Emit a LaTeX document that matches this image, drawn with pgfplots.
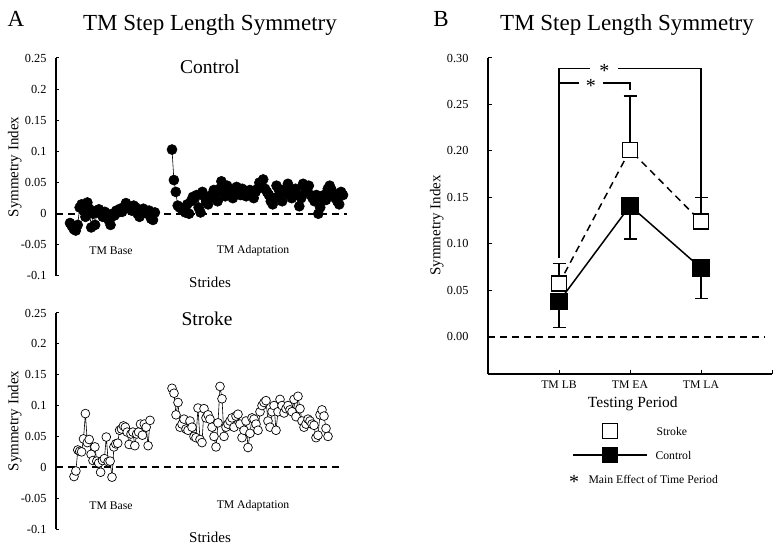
\documentclass[border=0pt]{standalone}
\usepackage{pgfplots}
\usepackage{pgfplotstable}
\pgfplotsset{compat=1.18}
\usepackage{fontspec}
\setmainfont{Liberation Serif}

\newcommand\fTitle{\fontsize{23}{26}\selectfont}
\newcommand\fPanel{\fontsize{19.5}{22}\selectfont}
\newcommand\fLabel{\fontsize{15}{18}\selectfont}
\newcommand\fTick{\fontsize{12.3}{14}\selectfont}
\newcommand\fSmall{\fontsize{11.7}{14}\selectfont}
\newcommand\fStar{\fontsize{20}{22}\selectfont}

% control, treadmill baseline
\pgfplotstableread{
v
-0.015
-0.020
-0.025
-0.027
-0.018
0.010
0.015
0.005
-0.005
0.018
0.008
-0.022
0.000
-0.018
0.005
0.007
0.000
-0.005
0.003
0.000
-0.010
-0.018
0.000
-0.003
0.005
0.002
0.008
0.003
0.010
0.017
0.012
0.008
0.005
0.013
0.010
0.000
-0.005
0.005
0.008
0.003
0.000
0.005
-0.008
-0.010
0.002
}\ctrlbase

% control, adaptation
\pgfplotstableread{
v
0.103
0.054
0.035
0.013
0.010
0.008
0.005
0.002
0.015
0.000
0.020
0.027
0.025
0.030
0.010
0.002
0.035
0.028
0.020
0.015
0.025
0.030
0.038
0.032
0.020
0.040
0.052
0.035
0.028
0.045
0.040
0.033
0.025
0.035
0.043
0.038
0.030
0.040
0.035
0.028
0.033
0.038
0.030
0.025
0.035
0.040
0.050
0.045
0.055
0.040
0.035
0.030
0.020
0.015
0.025
0.045
0.040
0.030
0.020
0.035
0.040
0.048
0.030
0.025
0.035
0.040
0.030
0.012
0.025
0.048
0.040
0.035
0.045
0.030
0.025
0.020
0.030
0.000
0.010
0.025
0.030
0.022
0.040
0.045
0.038
0.030
0.025
0.020
0.015
0.035
0.030
}\ctrladapt

% stroke, treadmill baseline
\pgfplotstableread{
v
-0.015
-0.006
0.028
0.026
0.025
0.046
0.087
0.040
0.045
0.021
0.011
0.033
0.010
0.007
-0.008
0.011
0.014
0.049
0.009
0.010
-0.016
0.033
0.038
0.039
0.060
0.062
0.067
0.065
0.057
0.037
0.054
0.057
0.035
0.054
0.057
0.070
0.052
0.070
0.065
0.035
0.076
}\strkbase

% stroke, adaptation
\pgfplotstableread{
v
0.128
0.120
0.085
0.105
0.065
0.070
0.078
0.062
0.060
0.075
0.065
0.050
0.048
0.096
0.045
0.040
0.095
0.080
0.085
0.078
0.065
0.050
0.033
0.072
0.131
0.111
0.050
0.065
0.070
0.075
0.080
0.065
0.083
0.086
0.070
0.048
0.060
0.075
0.032
0.055
0.080
0.078
0.070
0.060
0.090
0.100
0.105
0.108
0.075
0.065
0.090
0.100
0.060
0.090
0.110
0.100
0.088
0.095
0.100
0.093
0.090
0.110
0.082
0.115
0.095
0.075
0.065
0.070
0.078
0.075
0.070
0.068
0.048
0.052
0.085
0.093
0.083
0.063
0.050
}\strkadapt

\pgfplotsset{
  zeroline/.style={black, line width=1.6pt, dash pattern=on 7pt off 5pt},
  ctrl/.style={black, line width=0.6pt, mark=*, mark size=5pt, mark options={fill=black, solid}},
  strk/.style={black, line width=0.6pt, mark=*, mark size=4.4pt, mark options={fill=white, draw=black, line width=0.7pt, solid}},
}

\begin{document}
\begin{tikzpicture}
\useasboundingbox (0,0) rectangle (779pt,549pt);

\node[font=\fTitle] at (16pt,530pt) {A};
\node[font=\fTitle] at (210pt,524pt) {TM Step Length Symmetry};
\node[font=\fTitle] at (441pt,530pt) {B};
\node[font=\fTitle] at (627pt,524pt) {TM Step Length Symmetry};

% Control
\begin{axis}[
  at={(56pt,273pt)}, anchor=south west,
  scale only axis, width=294pt, height=218pt,
  xmin=0, xmax=294, ymin=-0.1, ymax=0.25,
  clip=false,
  axis x line=none, axis y line=left,
  y axis line style={-, line width=1.4pt},
  ytick={-0.1,-0.05,0,0.05,0.1,0.15,0.2,0.25},
  yticklabels={{\fTick -0.1},{\fTick -0.05},{\fTick 0},{\fTick 0.05},{\fTick 0.1},{\fTick 0.15},{\fTick 0.2},{\fTick 0.25}},
  yticklabel style={font=\fTick, xshift=-6pt},
  tick style={black, line width=1pt}, major tick length=3pt, tick align=inside,
  ylabel={\fLabel Symmetry Index},
  ylabel style={font=\fLabel, at={(axis description cs:-0.14,0.5)}, anchor=center},
]
  \addplot[zeroline] coordinates {(0,0) (291,0)};
  \addplot[ctrl] table[x expr=14+\coordindex*1.93, y=v] {\ctrlbase};
  \addplot[ctrl] table[x expr=116+\coordindex*1.9, y=v] {\ctrladapt};
  \node[font=\fPanel] at (axis cs:154,0.236) {Control};
  \node[font=\fSmall] at (axis cs:55,-0.059) {TM Base};
  \node[font=\fSmall] at (axis cs:197,-0.059) {TM Adaptation};
  \node[font=\fLabel] at (axis cs:154,-0.111) {Strides};
\end{axis}

% Stroke
\begin{axis}[
  at={(56pt,20pt)}, anchor=south west,
  scale only axis, width=294pt, height=216pt,
  xmin=0, xmax=294, ymin=-0.1, ymax=0.25,
  clip=false,
  axis x line=none, axis y line=left,
  y axis line style={-, line width=1.4pt},
  ytick={-0.1,-0.05,0,0.05,0.1,0.15,0.2,0.25},
  yticklabels={{\fTick -0.1},{\fTick -0.05},{\fTick 0},{\fTick 0.05},{\fTick 0.1},{\fTick 0.15},{\fTick 0.2},{\fTick 0.25}},
  yticklabel style={font=\fTick, xshift=-6pt},
  tick style={black, line width=1pt}, major tick length=3pt, tick align=inside,
  ylabel={\fLabel Symmetry Index},
  ylabel style={font=\fLabel, at={(axis description cs:-0.14,0.5)}, anchor=center},
]
  \addplot[zeroline] coordinates {(0,0) (286,0)};
  \addplot[strk] table[x expr=18+\coordindex*1.9, y=v] {\strkbase};
  \addplot[strk] table[x expr=116+\coordindex*2.0, y=v] {\strkadapt};
  \node[font=\fPanel] at (axis cs:151,0.24) {Stroke};
  \node[font=\fSmall] at (axis cs:55,-0.0616) {TM Base};
  \node[font=\fSmall] at (axis cs:197,-0.0616) {TM Adaptation};
  \node[font=\fLabel] at (axis cs:154,-0.113) {Strides};
\end{axis}

% B
\begin{axis}[
  at={(488pt,175pt)}, anchor=south west,
  scale only axis, width=284pt, height=316pt,
  xmin=0, xmax=4, ymin=-0.04, ymax=0.30,
  clip=false,
  axis x line=bottom, axis y line=left,
  axis line style={-, line width=1.4pt},
  xtick={1,2,3,4}, xticklabels={TM LB,TM EA,TM LA,{}},
  ytick={0,0.05,0.1,0.15,0.2,0.25,0.3},
  yticklabels={{\fTick 0.00},{\fTick 0.05},{\fTick 0.10},{\fTick 0.15},{\fTick 0.20},{\fTick 0.25},{\fTick 0.30}},
  yticklabel style={font=\fTick, xshift=-16pt},
  xticklabel style={font=\fSmall, yshift=-3pt},
  tick style={black, line width=1pt}, major tick length=4pt,
  tick align=inside,
  ylabel={\fLabel Symmetry Index},
  ylabel style={font=\fLabel, at={(axis description cs:-0.18,0.47)}, anchor=center},
]
  \addplot[zeroline] coordinates {(0,0) (3.9,0)};
  \addplot[black, line width=1.5pt, mark=square*, mark size=8pt,
    mark options={fill=black, solid},
    error bars/.cd, y dir=minus, y explicit,
    error bar style={line width=1.5pt, solid},
    error mark options={rotate=90, mark size=6.5pt, line width=1.5pt, solid}]
    coordinates {(1,0.038) +- (0,0.028) (2,0.141) +- (0,0.036) (3,0.074) +- (0,0.033)};
  \addplot[black, line width=1.5pt, dash pattern=on 7pt off 5pt, mark=square*, mark size=7.5pt,
    mark options={fill=white, draw=black, line width=1.8pt, solid},
    error bars/.cd, y dir=plus, y explicit,
    error bar style={line width=1.5pt, solid},
    error mark options={rotate=90, mark size=6.5pt, line width=1.5pt, solid}]
    coordinates {(1,0.057) +- (0,0.022) (2,0.201) +- (0,0.058) (3,0.124) +- (0,0.026)};
  % significance brackets
  \draw[line width=1.4pt] (axis cs:1,0.085) -- (axis cs:1,0.289) -- (axis cs:1.44,0.289);
  \draw[line width=1.4pt] (axis cs:1.83,0.289) -- (axis cs:3,0.289) -- (axis cs:3,0.147);
  \draw[line width=1.4pt] (axis cs:1,0.273) -- (axis cs:1.28,0.273);
  \draw[line width=1.4pt] (axis cs:1.62,0.273) -- (axis cs:2,0.273) -- (axis cs:2,0.266);
  \node[font=\fStar, yshift=-3pt] at (axis cs:1.64,0.289) {*};
  \node[font=\fStar, yshift=-3pt] at (axis cs:1.45,0.273) {*};
  \node[font=\fontsize{15.5}{18}\selectfont] at (axis cs:2.04,-0.072) {Testing Period};
\end{axis}

% legend
\draw[black, line width=1.8pt, fill=white] (602.5pt,110.5pt) rectangle (617.5pt,125.5pt);
\node[anchor=west, font=\fSmall] at (653pt,118pt) {Stroke};
\draw[black, line width=1.5pt] (573pt,94pt) -- (647pt,94pt);
\fill[black] (602pt,86pt) rectangle (618pt,102pt);
\node[anchor=west, font=\fSmall] at (652pt,94pt) {Control};
\node[font=\fStar, yshift=-3pt] at (574pt,70pt) {*};
\node[anchor=west, font=\fSmall] at (585pt,70pt) {Main Effect of Time Period};
\end{tikzpicture}
\end{document}
